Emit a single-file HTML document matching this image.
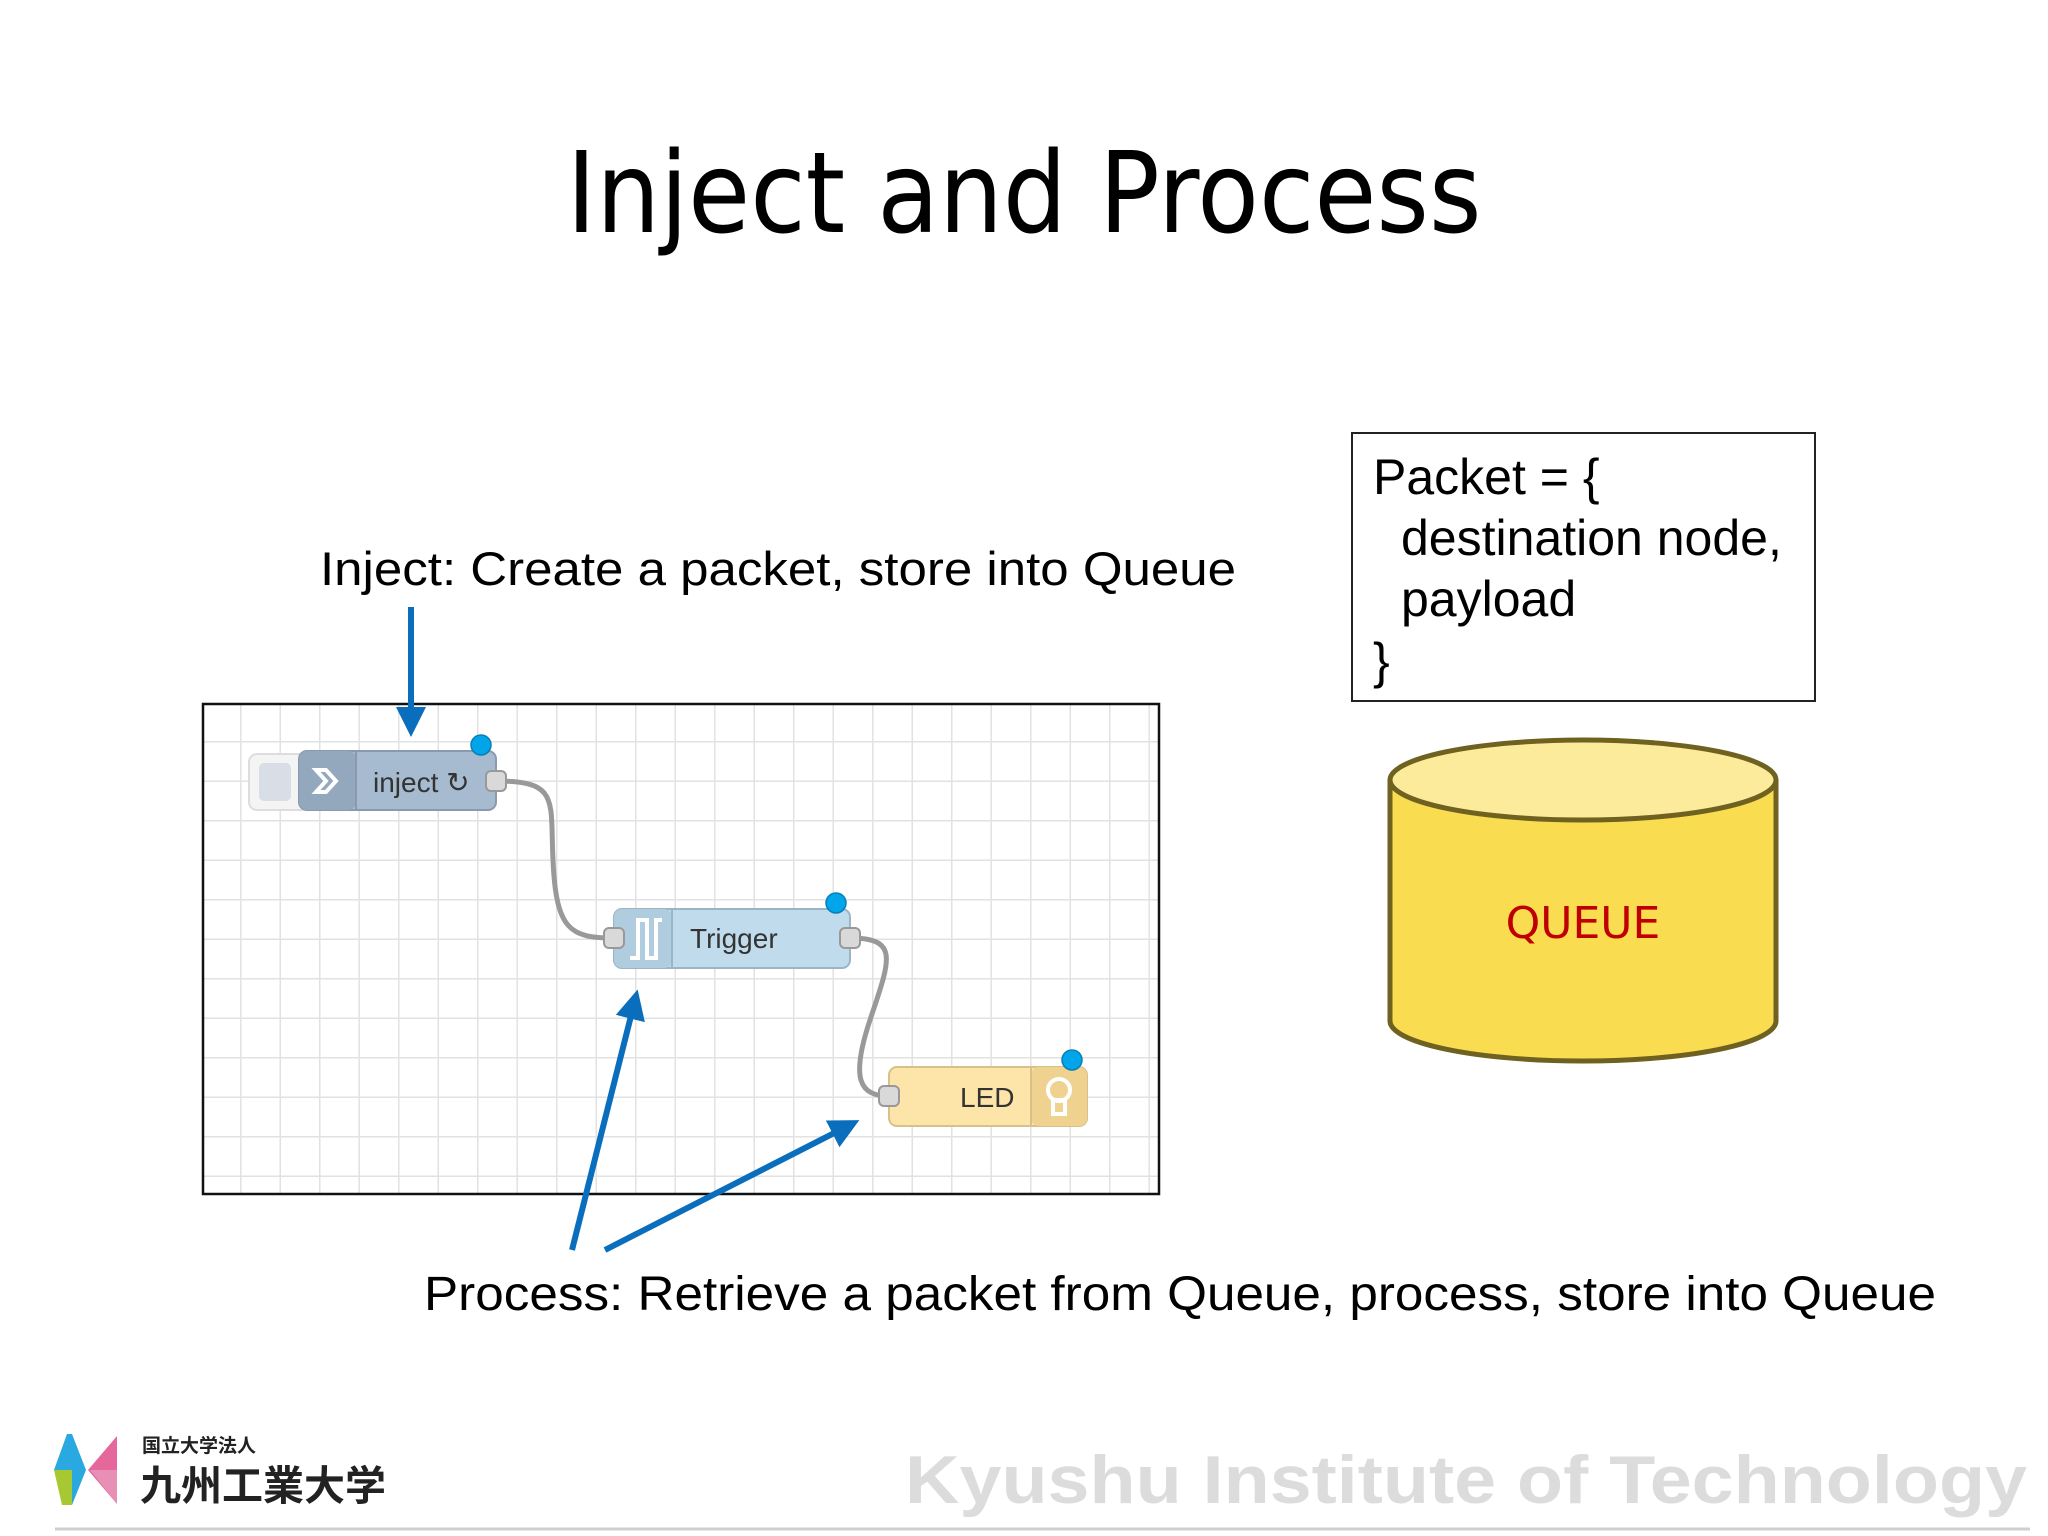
<!DOCTYPE html>
<html><head><meta charset="utf-8"><style>
html,body{margin:0;padding:0;background:#fff;}
svg{display:block;}
text{font-family:"Liberation Sans","Noto Sans CJK JP",sans-serif;}
</style></head><body>
<svg width="2048" height="1536" viewBox="0 0 2048 1536" xmlns="http://www.w3.org/2000/svg">
<defs>
<pattern id="grid" x="202" y="703" width="39.5" height="39.5" patternUnits="userSpaceOnUse">
<path d="M39.5 0V39.5M0 39.5H39.5" stroke="#e2e2e2" stroke-width="3" fill="none"/>
</pattern>
<marker id="ah" markerWidth="5" markerHeight="5" refX="2.5" refY="2.5" orient="auto" markerUnits="strokeWidth">
<path d="M0,0 L5,2.5 L0,5 Z" fill="#0a6ebd"/>
</marker>
</defs>
<text x="1024" y="232" font-size="112" text-anchor="middle" fill="#000" style="font-family:'DejaVu Sans','Liberation Sans',sans-serif" textLength="915" lengthAdjust="spacingAndGlyphs">Inject and Process</text>

<text x="320" y="585" font-size="47" fill="#000" textLength="916" lengthAdjust="spacingAndGlyphs">Inject: Create a packet, store into Queue</text>

<rect x="202" y="703" width="958" height="492" fill="#fff"/>
<rect x="202" y="703" width="958" height="492" fill="url(#grid)"/>
<rect x="203" y="704" width="956" height="490" fill="none" stroke="#111" stroke-width="2.5"/>

<path d="M496,781 C560,781 550,800 553,860 C556,930 570,938 614,938" stroke="#999" stroke-width="5" fill="none"/>
<path d="M850,938 C900,938 890,960 870,1020 C850,1080 860,1096 889,1096" stroke="#999" stroke-width="5" fill="none"/>

<rect x="249" y="754" width="60" height="56" rx="8" fill="#f4f4f4" stroke="#ddd" stroke-width="2"/>
<rect x="259" y="763" width="32" height="38" rx="5" fill="#d8dde6"/>
<rect x="299" y="751" width="197" height="59" rx="8" fill="#a6bbcf" stroke="#8a9aae" stroke-width="2"/>
<rect x="299" y="751" width="57" height="59" rx="8" fill="#94a8bd"/>
<line x1="356" y1="752" x2="356" y2="809" stroke="#8a9aae" stroke-width="2"/>
<path d="M316,770 h10 l10,11 l-10,11 h-10 l10,-11z" fill="none" stroke="#fff" stroke-width="4"/>
<text x="373" y="792" font-size="28" fill="#333">inject ↻</text>
<rect x="486" y="771" width="20" height="20" rx="5" fill="#d9d9d9" stroke="#999" stroke-width="2"/>
<circle cx="481" cy="745" r="10" fill="#00a5ea" stroke="#0a7fb5" stroke-width="1.5"/>

<rect x="614" y="909" width="236" height="59" rx="8" fill="#c0dcec" stroke="#9bb5c5" stroke-width="2"/>
<rect x="614" y="909" width="58" height="59" rx="8" fill="#b0cde0"/>
<line x1="672" y1="910" x2="672" y2="967" stroke="#9bb5c5" stroke-width="2"/>
<path d="M630,958 h8 v-38 h9 v38 h9 v-38 h6" fill="none" stroke="#fff" stroke-width="4"/>
<text x="690" y="948" font-size="28" fill="#333">Trigger</text>
<rect x="604" y="928" width="20" height="20" rx="5" fill="#d9d9d9" stroke="#999" stroke-width="2"/>
<rect x="840" y="928" width="20" height="20" rx="5" fill="#d9d9d9" stroke="#999" stroke-width="2"/>
<circle cx="836" cy="903" r="10" fill="#00a5ea" stroke="#0a7fb5" stroke-width="1.5"/>

<rect x="889" y="1067" width="198" height="59" rx="8" fill="#fde4a8" stroke="#d8c08a" stroke-width="2"/>
<rect x="1031" y="1067" width="56" height="59" rx="8" fill="#f0d290"/>
<line x1="1031" y1="1068" x2="1031" y2="1125" stroke="#d8c08a" stroke-width="2"/>
<circle cx="1059" cy="1090" r="11" fill="none" stroke="#fff" stroke-width="4"/>
<rect x="1053" y="1100" width="12" height="14" fill="none" stroke="#fff" stroke-width="4"/>
<text x="960" y="1107" font-size="28" fill="#333">LED</text>
<rect x="879" y="1086" width="20" height="20" rx="5" fill="#d9d9d9" stroke="#999" stroke-width="2"/>
<circle cx="1072" cy="1060" r="10" fill="#00a5ea" stroke="#0a7fb5" stroke-width="1.5"/>

<line x1="411" y1="607" x2="411" y2="722" stroke="#0a6ebd" stroke-width="6" marker-end="url(#ah)"/>
<line x1="572" y1="1250" x2="634" y2="1004" stroke="#0a6ebd" stroke-width="6" marker-end="url(#ah)"/>
<line x1="605" y1="1250" x2="846" y2="1127" stroke="#0a6ebd" stroke-width="6" marker-end="url(#ah)"/>

<rect x="1352" y="433" width="463" height="268" fill="#fff" stroke="#222" stroke-width="2"/>
<text font-size="50" fill="#000">
<tspan x="1373" y="494">Packet = {</tspan>
<tspan x="1401" y="555">destination node,</tspan>
<tspan x="1401" y="616">payload</tspan>
<tspan x="1373" y="678">}</tspan>
</text>

<path d="M1390,780 V1021 A193,40 0 0 0 1776,1021 V780" fill="#f9dc50" stroke="#6f6220" stroke-width="5"/>
<ellipse cx="1583" cy="780" rx="193" ry="40" fill="#fdeb9c" stroke="#6f6220" stroke-width="5"/>
<text x="1583" y="938" font-size="44" fill="#c00000" text-anchor="middle" style="font-family:'DejaVu Sans','Liberation Sans',sans-serif">QUEUE</text>

<text x="424" y="1310" font-size="48" fill="#000" textLength="1512" lengthAdjust="spacingAndGlyphs">Process: Retrieve a packet from Queue, process, store into Queue</text>

<polygon points="67,1434 72,1434 86,1470 72,1505 67,1505 54,1470" fill="#2aa8e0"/>
<polygon points="54,1470 72,1470 72,1505 62,1505" fill="#a8c832"/>
<polygon points="117,1436 117,1504 88,1470" fill="#e6679c"/>
<polygon points="90,1470 117,1470 117,1504" fill="#e88fb5"/>
<text x="142" y="1452" font-size="19" font-weight="bold" fill="#222">国立大学法人</text>
<text x="140" y="1500" font-size="41" font-weight="bold" fill="#222">九州工業大学</text>
<text x="905" y="1503" font-size="68" font-weight="bold" fill="#dcdcdc" textLength="1122" lengthAdjust="spacingAndGlyphs">Kyushu Institute of Technology</text>
<line x1="55" y1="1529" x2="2030" y2="1529" stroke="#cfcfcf" stroke-width="3"/>
</svg>
</body></html>
